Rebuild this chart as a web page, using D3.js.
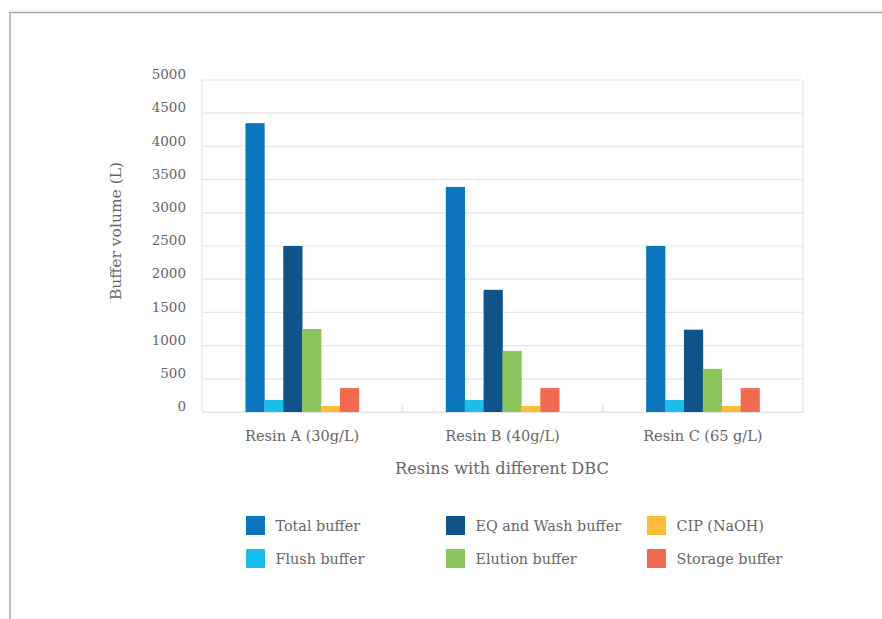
<!DOCTYPE html>
<html>
<head>
<meta charset="utf-8">
<script src="https://cdn.jsdelivr.net/npm/d3@7"></script>
<style>
html, body { margin: 0; padding: 0; background: #fff; }
svg { display: block; }
text { font-family: "DejaVu Serif", serif; fill: #666; }
</style>
</head>
<body>
<svg id="chart" width="882" height="619"></svg>
<script>
const categories = ["Resin A (30g/L)", "Resin B (40g/L)", "Resin C (65 g/L)"];
const seriesNames = ["Total buffer", "Flush buffer", "EQ and Wash buffer", "Elution buffer", "CIP (NaOH)", "Storage buffer"];
const seriesColors = ["#0b76bd", "#1cbdea", "#0e548a", "#8cc55b", "#fdbb38", "#f26b50"];
const totalBuffer = [4350, 3390, 2500];
const flushBuffer = [180, 180, 180];
const eqWashBuffer = [2500, 1840, 1240];
const elutionBuffer = [1250, 920, 650];
const cipNaOH = [90, 90, 90];
const storageBuffer = [360, 360, 360];
const yTicks = [0, 500, 1000, 1500, 2000, 2500, 3000, 3500, 4000, 4500, 5000];
const yTitle = "Buffer volume (L)";
const xTitle = "Resins with different DBC";

const seriesValues = [totalBuffer, flushBuffer, eqWashBuffer, elutionBuffer, cipNaOH, storageBuffer];

const svg = d3.select("#chart");

// outer frame
svg.append("line").attr("x1", 10).attr("x2", 882).attr("y1", 12.5).attr("y2", 12.5)
  .attr("stroke", "#a9a9a9").attr("stroke-width", 1.5);
svg.append("line").attr("x1", 10).attr("x2", 10).attr("y1", 12).attr("y2", 619)
  .attr("stroke", "#a9a9a9").attr("stroke-width", 1.5);

const pLeft = 202, pRight = 803, pTop = 80, pBottom = 412;

const x = d3.scaleBand().domain(categories).range([pLeft, pRight]).paddingInner(0).paddingOuter(0);
const xs = d3.scaleBand().domain(seriesNames).range([0, x.bandwidth()]).paddingInner(0).paddingOuter(2.3);
const y = d3.scaleLinear().domain([0, 5000]).range([pBottom, pTop]);

// gridlines
svg.append("g").selectAll("line").data(yTicks).join("line")
  .attr("x1", pLeft).attr("x2", pRight)
  .attr("y1", d => y(d)).attr("y2", d => y(d))
  .attr("stroke", "#e6e6e6").attr("stroke-width", 1.2);

// plot frame verticals
svg.append("line").attr("x1", pLeft).attr("x2", pLeft).attr("y1", pTop).attr("y2", pBottom)
  .attr("stroke", "#e6e6e6").attr("stroke-width", 1.2);
svg.append("line").attr("x1", pRight).attr("x2", pRight).attr("y1", pTop).attr("y2", pBottom)
  .attr("stroke", "#e6e6e6").attr("stroke-width", 1.2);

// y axis labels
const yAxis = d3.axisLeft(y).tickValues(yTicks).tickFormat(d3.format("d")).tickSize(0).tickPadding(16);
const gy = svg.append("g").attr("transform", `translate(${pLeft},0)`).call(yAxis);
gy.select(".domain").remove();
gy.selectAll("text").style("font-family", '"DejaVu Serif", serif').style("font-size", "13.5px").attr("fill", "#666").attr("dy", "-0.1em");

// bars
const groups = svg.append("g").selectAll("g").data(categories).join("g")
  .attr("transform", d => `translate(${x(d)},0)`);
groups.selectAll("rect")
  .data((c, ci) => seriesNames.map((s, si) => ({ s, si, v: seriesValues[si][ci] })))
  .join("rect")
  .attr("x", d => xs(d.s))
  .attr("width", xs.bandwidth() + 0.3)
  .attr("y", d => y(d.v))
  .attr("height", d => y(0) - y(d.v))
  .attr("fill", d => seriesColors[d.si]);

// x axis
const xAxis = d3.axisBottom(x).tickSize(0).tickPadding(19);
const gx = svg.append("g").attr("transform", `translate(0,${pBottom})`).call(xAxis);
gx.select(".domain").attr("stroke", "#e3e3e3").attr("stroke-width", 1.2);
gx.selectAll("text").style("font-family", '"DejaVu Serif", serif').style("font-size", "14.5px").attr("fill", "#666");
// separator ticks between categories
svg.append("g").selectAll("line").data(categories.slice(1)).join("line")
  .attr("x1", d => x(d)).attr("x2", d => x(d))
  .attr("y1", pBottom - 7).attr("y2", pBottom)
  .attr("stroke", "#e3e3e3").attr("stroke-width", 1.2);

// axis titles
svg.append("text").attr("transform", `translate(121,231) rotate(-90)`)
  .attr("text-anchor", "middle").style("font-size", "15.5px").text(yTitle);
svg.append("text").attr("x", 502).attr("y", 474)
  .attr("text-anchor", "middle").style("font-size", "16.2px").text(xTitle);

// legend
const legendCols = [246, 446, 647];
const legendRows = [516, 549];
const legend = svg.append("g").selectAll("g").data(seriesNames).join("g")
  .attr("transform", (d, i) => `translate(${legendCols[Math.floor(i / 2)]},${legendRows[i % 2]})`);
legend.append("rect").attr("width", 19).attr("height", 19).attr("fill", (d, i) => seriesColors[i]);
legend.append("text").attr("x", 29.5).attr("y", 15.3).style("font-size", "14.35px").text(d => d);
</script>
</body>
</html>
